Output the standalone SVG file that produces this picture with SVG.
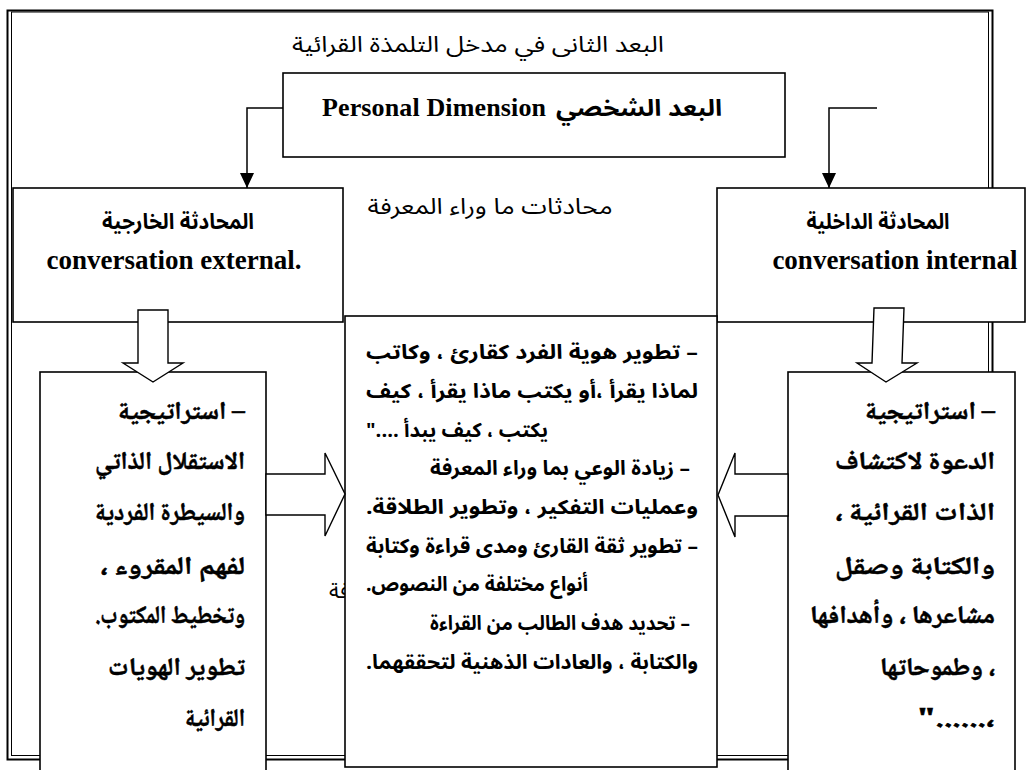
<svg xmlns="http://www.w3.org/2000/svg" width="1027" height="770" viewBox="0 0 1027 770">
<style>
.box{fill:#fff;stroke:#000;stroke-width:1.6}
.ln{fill:none;stroke:#000;stroke-width:1.5}
.blk{fill:#fff;stroke:#000;stroke-width:1.4;stroke-linejoin:miter}
.ar{font-family:'Noto Sans Arabic','DejaVu Sans',sans-serif;direction:rtl;fill:#000}
.nk{font-family:'Noto Naskh Arabic','DejaVu Sans',serif;font-weight:bold;direction:rtl;fill:#000;stroke:#000;stroke-width:0.5}
.en{font-family:'Liberation Serif',serif;font-weight:bold;fill:#000}
.b{font-weight:bold}
</style>
<defs>
<marker id="ah" markerUnits="userSpaceOnUse" viewBox="0 0 15 14" refX="15" refY="7" markerWidth="15" markerHeight="14" orient="auto">
<path d="M0,0 L15,7 L0,14 z" fill="#000"/>
</marker>
</defs>
<rect width="1027" height="770" fill="#fff"/>
<g id="frame">
<rect x="7.5" y="10.5" width="985" height="749" fill="none" stroke="#000" stroke-width="2"/>
<rect x="11.5" y="12" width="977" height="743.5" fill="none" stroke="#000" stroke-width="1"/>
</g>
<g id="labels">
<text class="ar" x="478" y="52" font-size="22" text-anchor="middle" textLength="372" lengthAdjust="spacingAndGlyphs">البعد الثانى في مدخل التلمذة القرائية</text>
<text class="ar" x="490" y="214" font-size="22" text-anchor="middle" textLength="245" lengthAdjust="spacingAndGlyphs">محادثات ما وراء المعرفة</text>
<text class="ar" x="329" y="598" font-size="22" text-anchor="start" style="direction:ltr">فة</text>
</g>
<g id="personal">
<rect class="box" x="283" y="73" width="502" height="84"/>
<text class="en" x="322" y="116" font-size="26" textLength="224" lengthAdjust="spacing">Personal  Dimension</text>
<text class="ar b" x="639" y="116" font-size="23" text-anchor="middle" textLength="166" lengthAdjust="spacingAndGlyphs">البعد الشخصي</text>
</g>
<g id="external">
<rect class="box" x="13" y="188" width="330" height="134"/>
<text class="ar b" x="178" y="229" font-size="22" text-anchor="middle" textLength="152" lengthAdjust="spacingAndGlyphs">المحادثة الخارجية</text>
<text class="en" x="174" y="269" font-size="27" text-anchor="middle">conversation external.</text>
</g>
<g id="internal">
<rect class="box" x="717" y="188" width="308" height="134"/>
<text class="ar b" x="878" y="229" font-size="22" text-anchor="middle" textLength="143" lengthAdjust="spacingAndGlyphs">المحادثة الداخلية</text>
<text class="en" x="895" y="269" font-size="27" text-anchor="middle">conversation internal</text>
</g>
<g id="center">
<rect class="box" x="345" y="316" width="372" height="451"/>
<text class="ar b" x="532" y="359" font-size="20" text-anchor="middle" textLength="332" lengthAdjust="spacingAndGlyphs">– تطوير هوية الفرد كقارئ ، وكاتب</text>
<text class="ar b" x="532" y="398" font-size="20" text-anchor="middle" textLength="332" lengthAdjust="spacingAndGlyphs">لماذا يقرأ ،أو يكتب ماذا يقرأ ، كيف</text>
<text class="ar b" x="457" y="437" font-size="20" text-anchor="middle" textLength="182" lengthAdjust="spacingAndGlyphs">يكتب ، كيف يبدأ ...."</text>
<text class="ar b" x="560" y="475" font-size="20" text-anchor="middle" textLength="260" lengthAdjust="spacingAndGlyphs">– زيادة الوعي بما وراء المعرفة</text>
<text class="ar b" x="532" y="514" font-size="20" text-anchor="middle" textLength="332" lengthAdjust="spacingAndGlyphs">وعمليات التفكير ، وتطوير الطلاقة.</text>
<text class="ar b" x="532" y="553" font-size="20" text-anchor="middle" textLength="332" lengthAdjust="spacingAndGlyphs">– تطوير ثقة القارئ ومدى قراءة وكتابة</text>
<text class="ar b" x="477" y="591" font-size="20" text-anchor="middle" textLength="222" lengthAdjust="spacingAndGlyphs">أنواع مختلفة من النصوص.</text>
<text class="ar b" x="560" y="630" font-size="20" text-anchor="middle" textLength="260" lengthAdjust="spacingAndGlyphs">– تحديد هدف الطالب من القراءة</text>
<text class="ar b" x="532" y="669" font-size="20" text-anchor="middle" textLength="332" lengthAdjust="spacingAndGlyphs">والكتابة ، والعادات الذهنية لتحققهما.</text>
</g>
<g id="strategy-left">
<rect class="box" x="40" y="372" width="226" height="410"/>
<text class="nk" x="181.5" y="419" font-size="25" text-anchor="middle" textLength="127" lengthAdjust="spacingAndGlyphs">– استراتيجية</text>
<text class="nk" x="170" y="469" font-size="25" text-anchor="middle" textLength="150" lengthAdjust="spacingAndGlyphs">الاستقلال الذاتي</text>
<text class="nk" x="170" y="520" font-size="25" text-anchor="middle" textLength="150" lengthAdjust="spacingAndGlyphs">والسيطرة الفردية</text>
<text class="nk" x="172.5" y="574" font-size="25" text-anchor="middle" textLength="145" lengthAdjust="spacingAndGlyphs">لفهم المقروء ،</text>
<text class="nk" x="170" y="623" font-size="25" text-anchor="middle" textLength="150" lengthAdjust="spacingAndGlyphs">وتخطيط المكتوب.</text>
<text class="nk" x="176.5" y="675" font-size="25" text-anchor="middle" textLength="137" lengthAdjust="spacingAndGlyphs">تطوير الهويات</text>
<text class="nk" x="215" y="726" font-size="25" text-anchor="middle" textLength="60" lengthAdjust="spacingAndGlyphs">القرائية</text>
</g>
<g id="strategy-right">
<rect class="box" x="788" y="372" width="227" height="410"/>
<text class="nk" x="930" y="419" font-size="25" text-anchor="middle" textLength="130" lengthAdjust="spacingAndGlyphs">– استراتيجية</text>
<text class="nk" x="915" y="469" font-size="25" text-anchor="middle" textLength="160" lengthAdjust="spacingAndGlyphs">الدعوة لاكتشاف</text>
<text class="nk" x="915" y="520" font-size="25" text-anchor="middle" textLength="160" lengthAdjust="spacingAndGlyphs">الذات القرائية ،</text>
<text class="nk" x="915" y="574" font-size="25" text-anchor="middle" textLength="160" lengthAdjust="spacingAndGlyphs">والكتابة وصقل</text>
<text class="nk" x="902.5" y="623" font-size="25" text-anchor="middle" textLength="185" lengthAdjust="spacingAndGlyphs">مشاعرها ، وأهدافها</text>
<text class="nk" x="937.5" y="675" font-size="25" text-anchor="middle" textLength="115" lengthAdjust="spacingAndGlyphs">، وطموحاتها</text>
<text class="nk" x="956" y="726" font-size="25" text-anchor="middle" textLength="77" lengthAdjust="spacingAndGlyphs">،......"</text>
</g>
<g id="connectors">
<polyline class="ln" points="283,108 247,108 247,188" marker-end="url(#ah)"/>
<polyline class="ln" points="877,108 829,108 829,188" marker-end="url(#ah)"/>
<polygon class="blk" points="138,310 168,310 168,363 183,363 153,382 123,363 138,363"/>
<polygon class="blk" points="874,308 904,308 902,363 917,363 886,382 857,363 872,363"/>
<polygon class="blk" points="266,474 325,474 325,453 345,494 325,536 325,515 266,515"/>
<polygon class="blk" points="788,474 735,474 735,453 718,495 735,537 735,516 788,516"/>
</g>
</svg>
